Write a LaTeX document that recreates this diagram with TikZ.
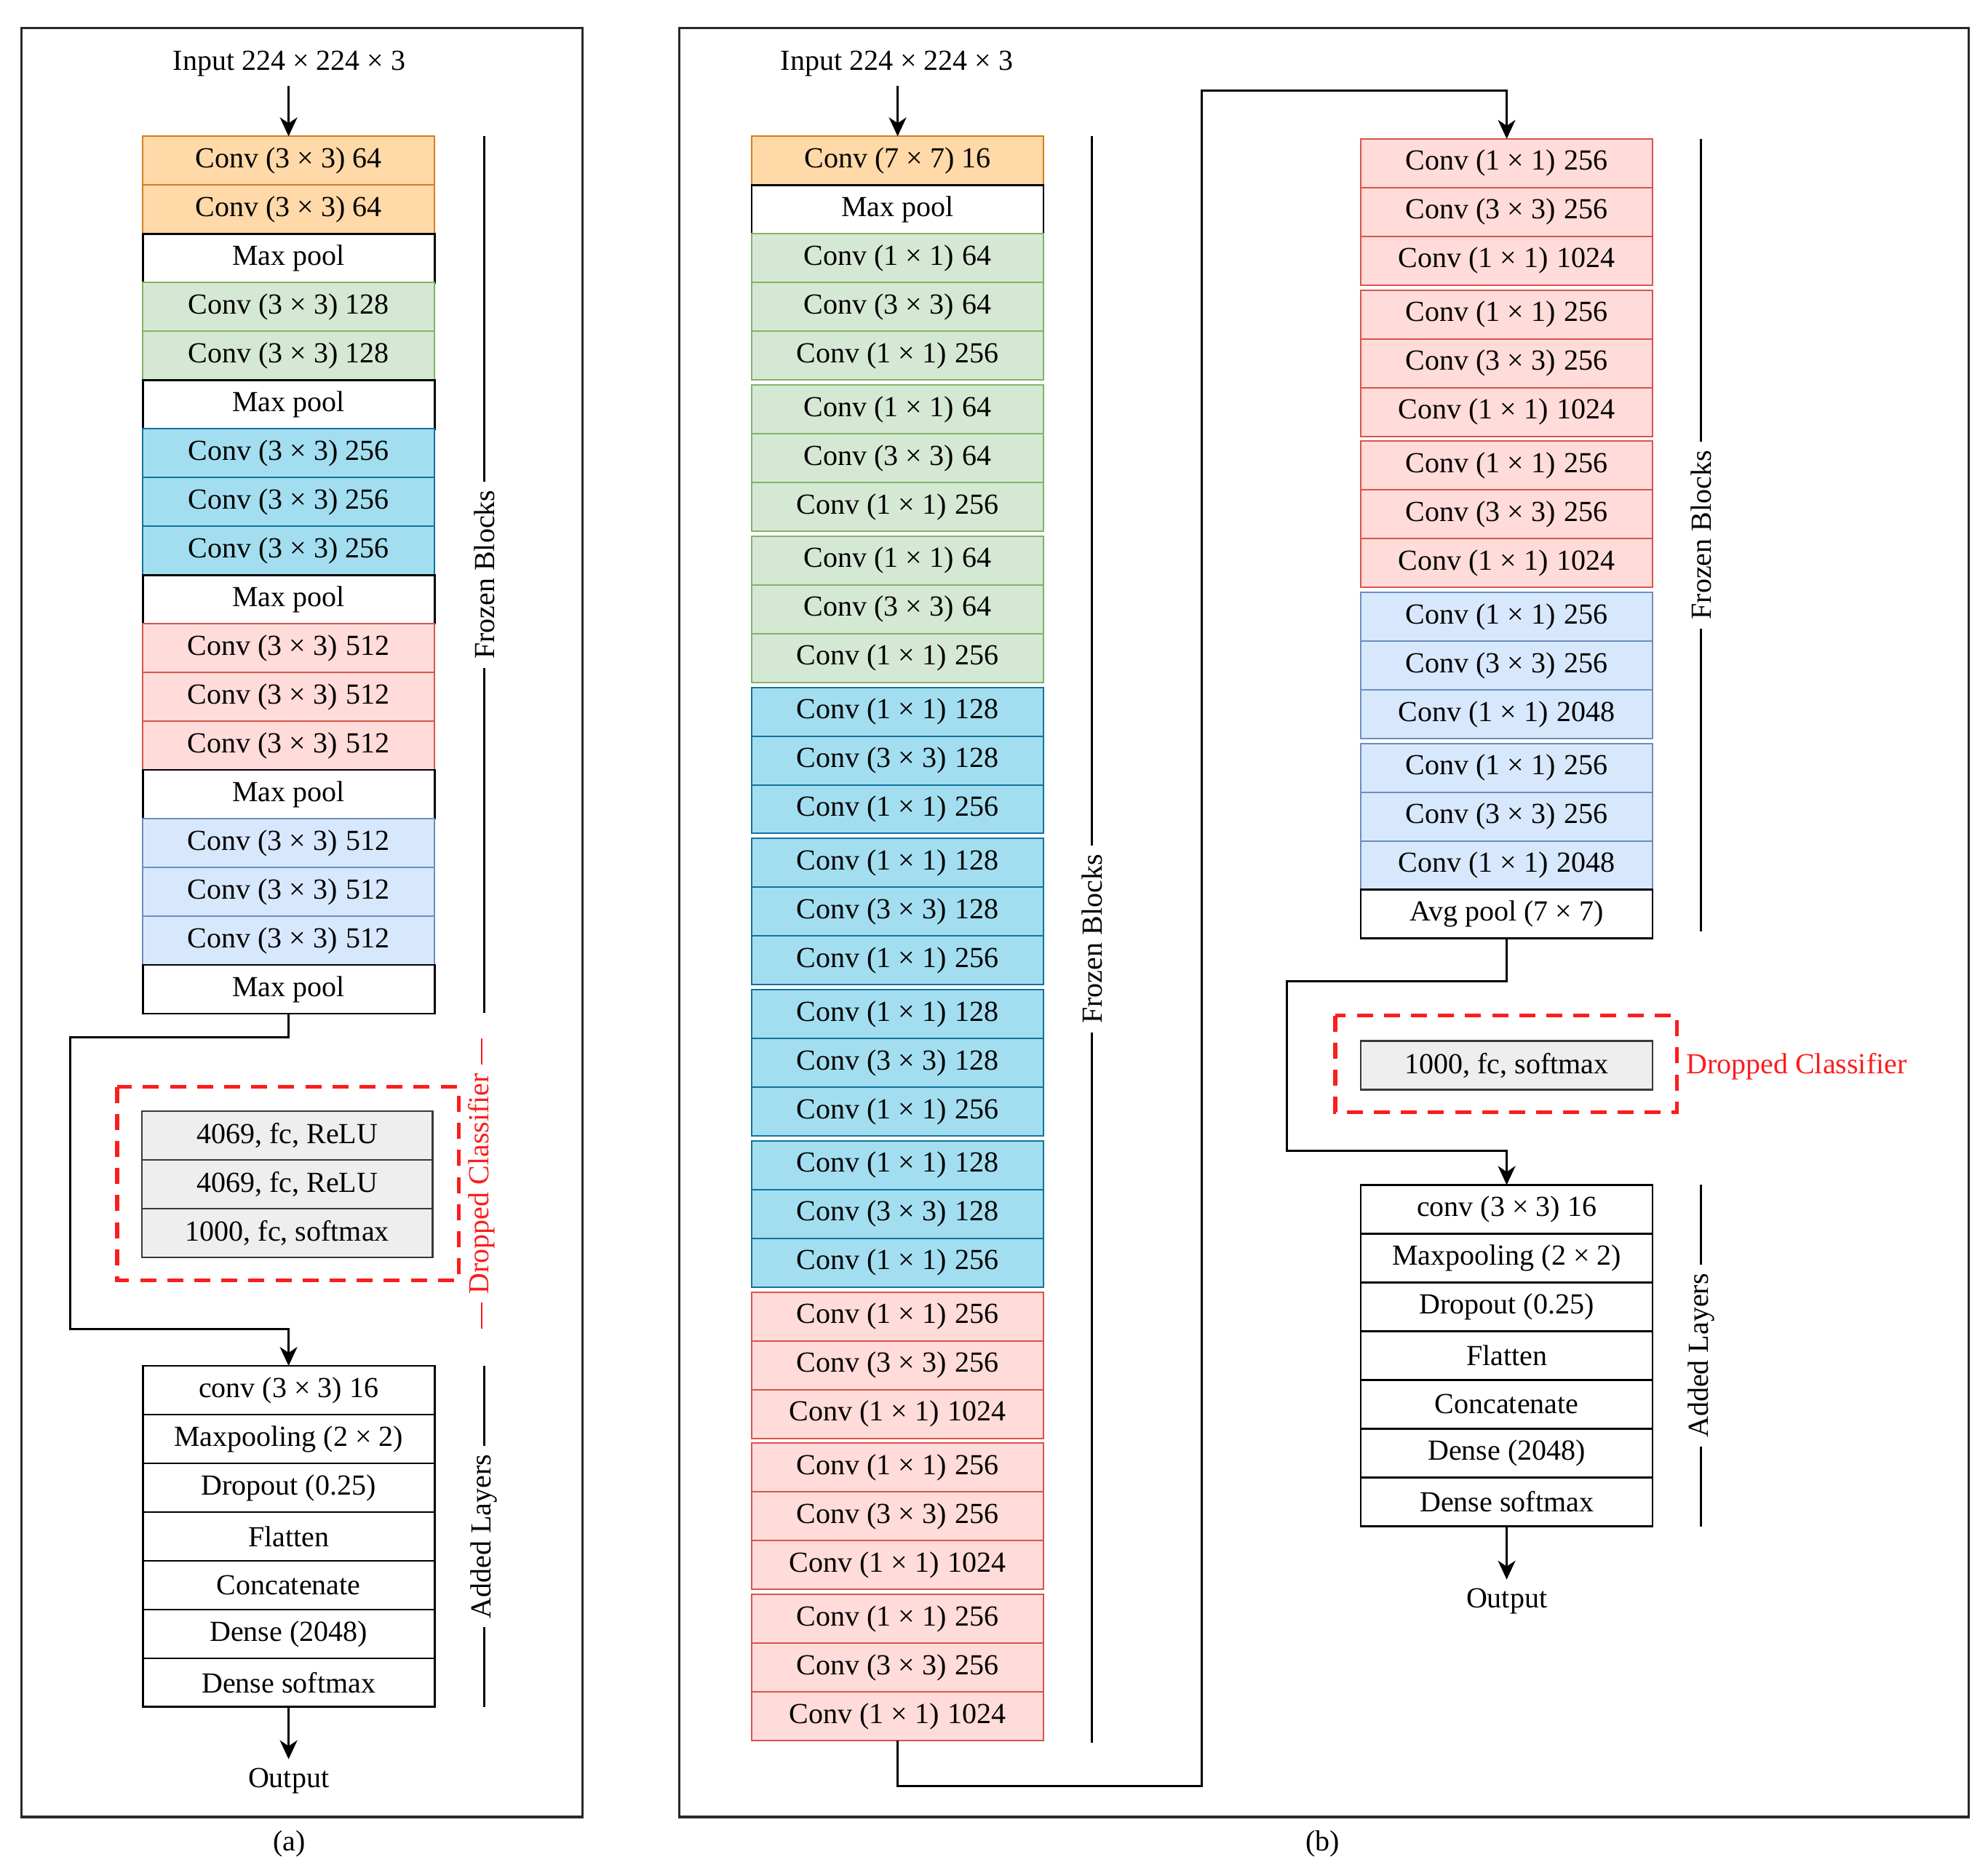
\documentclass[tikz,border=0pt]{standalone}
\usepackage{fontspec}
\setmainfont{Liberation Serif}
\usetikzlibrary{arrows.meta,calc}
\definecolor{orfill}{RGB}{255,217,168}
\definecolor{ordraw}{RGB}{214,125,30}
\definecolor{grfill}{RGB}{213,232,212}
\definecolor{grdraw}{RGB}{130,179,102}
\definecolor{cyfill}{RGB}{162,222,240}
\definecolor{cydraw}{RGB}{16,115,158}
\definecolor{rdfill}{RGB}{255,219,217}
\definecolor{rddraw}{RGB}{215,85,75}
\definecolor{lbfill}{RGB}{216,232,252}
\definecolor{lbdraw}{RGB}{108,142,191}
\definecolor{gyfill}{RGB}{238,238,238}
\definecolor{gydraw}{RGB}{54,57,61}
\definecolor{dropred}{RGB}{250,30,30}
\definecolor{framegray}{RGB}{40,40,40}
\newcommand{\twosp}{\hspace{0.3em}}
\begin{document}
\begin{tikzpicture}[x=0.43775pt,y=-0.43775pt,
  font=\fontsize{10}{12}\selectfont,
  layer/.style={rectangle, minimum width=100.25pt, minimum height=16.74pt, inner sep=0pt, outer sep=0pt, anchor=north, line width=0.5pt},
  orbox/.style={layer, fill=orfill, draw=ordraw},
  grbox/.style={layer, fill=grfill, draw=grdraw},
  cybox/.style={layer, fill=cyfill, draw=cydraw},
  rdbox/.style={layer, fill=rdfill, draw=rddraw},
  lbbox/.style={layer, fill=lbfill, draw=lbdraw},
  whbox/.style={layer, fill=white, draw=black, line width=0.7pt},
  gybox/.style={layer, fill=gyfill, draw=gydraw, line width=0.6pt, minimum width=99.8pt},
  txt/.style={inner sep=3pt},
  arr/.style={-{Stealth[length=6.5pt,width=6pt,inset=2pt]}, line width=0.75pt, draw=black},
  conn/.style={line width=0.75pt, draw=black},
  frame/.style={line width=0.8pt, draw=framegray},
  sideline/.style={line width=0.6pt, draw=black},
  sidelabel/.style={fill=white, rotate=90, inner xsep=3pt, inner ysep=0pt},
  dropbox/.style={draw=dropred, line width=1.3pt, dash pattern=on 5.5pt off 3.8pt}
]
\useasboundingbox (0,0) rectangle (1560.25,1463.2);

% ---------- frames ----------
\draw[frame] (17,22) rectangle (457,1426);
\draw[frame] (533,22) rectangle (1545,1426);

% ================= Panel (a) =================
\foreach \t/\s [count=\i] in {
 {Conv (3 × 3) 64}/orbox, {Conv (3 × 3) 64}/orbox, {Max pool}/whbox,
 {Conv (3 × 3) 128}/grbox, {Conv (3 × 3) 128}/grbox, {Max pool}/whbox,
 {Conv (3 × 3) 256}/cybox, {Conv (3 × 3) 256}/cybox, {Conv (3 × 3) 256}/cybox, {Max pool}/whbox,
 {Conv (3 × 3)\twosp 512}/rdbox, {Conv (3 × 3)\twosp 512}/rdbox, {Conv (3 × 3)\twosp 512}/rdbox, {Max pool}/whbox,
 {Conv (3 × 3)\twosp 512}/lbbox, {Conv (3 × 3)\twosp 512}/lbbox, {Conv (3 × 3)\twosp 512}/lbbox, {Max pool}/whbox}
 \node[\s] (fA\i) at (226.5,{107+(\i-1)*38.25}) {\t};

\node[txt] (inA) at (227,50) {Input 224 × 224 × 3};
\draw[arr] (fA1.north |- inA.south) -- (fA1.north);

% dropped classifier (a)
\draw[dropbox] (92,853) rectangle (360,1005);
\foreach \t [count=\i] in {{4069, fc, ReLU},{4069, fc, ReLU},{1000, fc, softmax}}
 \node[gybox] (dcA\i) at (225.5,{872+(\i-1)*38.3}) {\t};

% added layers (a)
\foreach \t [count=\i] in {{conv (3 × 3) 16},{Maxpooling (2 × 2)},{Dropout (0.25)},Flatten,Concatenate,{Dense (2048)},{Dense softmax}}
 \node[whbox] (adA\i) at (226.5,{1072+(\i-1)*38.25}) {\t};

\coordinate (ca1) at (55,814);
\coordinate (ca2) at (55,1043);
\draw[arr] (fA18.south) -- (fA18.south |- ca1) -- (ca1) -- (ca2) -- (ca2 -| adA1.north) -- (adA1.north);

\node[txt] (outA) at (226.5,1398) {Output};
\draw[arr] (adA7.south) -- (outA.north);

% side labels (a)
\coordinate (sa1) at (380,107); \coordinate (sa2) at (380,795);
\draw[sideline] (sa1) -- (sa2);
\node[sidelabel] (fzA) at (380,451) {Frozen Blocks};
\coordinate (sa3) at (378,815); \coordinate (sa4) at (378,1043);
\draw[sideline, draw=dropred] (sa3) -- (sa4);
\node[sidelabel, text=dropred] (drA) at (378,929) {Dropped Classifier};
\coordinate (sa5) at (380,1072); \coordinate (sa6) at (380,1340);
\draw[sideline] (sa5) -- (sa6);
\node[sidelabel] (alA) at (380,1206) {Added Layers};

\node[txt] (capA) at (227,1447) {(a)};

% ================= Panel (b) =================
\node[orbox] (bTop) at (704.5,107) {Conv (7 × 7) 16};
\node[whbox] (bPool) at (704.5,145.25) {Max pool};
\foreach \k/\sty/\na/\nc in {0/grbox/64/256, 1/grbox/64/256, 2/grbox/64/256,
  3/cybox/128/256, 4/cybox/128/256, 5/cybox/128/256, 6/cybox/128/256,
  7/rdbox/256/1024, 8/rdbox/256/1024, 9/rdbox/256/1024}
{
 \node[\sty] (bL\k-a) at (704.5,{183.5+\k*118.65}) {Conv (1 × 1)\twosp\na};
 \node[\sty] (bL\k-b) at (704.5,{183.5+\k*118.65+38.25}) {Conv (3 × 3)\twosp\na};
 \node[\sty] (bL\k-c) at (704.5,{183.5+\k*118.65+76.5}) {Conv (1 × 1)\twosp\nc};
}
\node[txt] (inB) at (704,50) {Input 224 × 224 × 3};
\draw[arr] (bTop.north |- inB.south) -- (bTop.north);

\foreach \k/\sty/\nc in {0/rdbox/1024, 1/rdbox/1024, 2/rdbox/1024, 3/lbbox/2048, 4/lbbox/2048}
{
 \node[\sty] (bR\k-a) at (1182.5,{109+\k*118.65}) {Conv (1 × 1)\twosp 256};
 \node[\sty] (bR\k-b) at (1182.5,{109+\k*118.65+38.25}) {Conv (3 × 3)\twosp 256};
 \node[\sty] (bR\k-c) at (1182.5,{109+\k*118.65+76.5}) {Conv (1 × 1)\twosp\nc};
}
\node[whbox] (avgB) at (1182.5,698.35) {Avg pool (7 × 7)};

\coordinate (cb1) at (943,1402);
\coordinate (cb2) at (943,71);
\draw[arr] (bL9-c.south) -- (bL9-c.south |- cb1) -- (cb1) -- (cb2) -- (cb2 -| bR0-a.north) -- (bR0-a.north);

% dropped classifier (b)
\draw[dropbox] (1048,797) rectangle (1316,873);
\node[gybox, minimum width=100.25pt] (dcB) at (1182.5,817) {1000, fc, softmax};
\node[txt, text=dropred] (drB) at (1410,837) {Dropped Classifier};

% added layers (b)
\foreach \t [count=\i] in {{conv (3 × 3) 16},{Maxpooling (2 × 2)},{Dropout (0.25)},Flatten,Concatenate,{Dense (2048)},{Dense softmax}}
 \node[whbox] (adB\i) at (1182.5,{930+(\i-1)*38.25}) {\t};

\coordinate (cb3) at (1010,770);
\coordinate (cb4) at (1010,903);
\draw[arr] (avgB.south) -- (avgB.south |- cb3) -- (cb3) -- (cb4) -- (cb4 -| adB1.north) -- (adB1.north);

\node[txt] (outB) at (1182.5,1257) {Output};
\draw[arr] (adB7.south) -- (outB.north);

% side labels (b)
\coordinate (sb1) at (857,107); \coordinate (sb2) at (857,1368);
\draw[sideline] (sb1) -- (sb2);
\node[sidelabel] (fzB1) at (857,737) {Frozen Blocks};
\coordinate (sb3) at (1335,109); \coordinate (sb4) at (1335,731);
\draw[sideline] (sb3) -- (sb4);
\node[sidelabel] (fzB2) at (1335,420) {Frozen Blocks};
\coordinate (sb5) at (1335,930); \coordinate (sb6) at (1335,1198);
\draw[sideline] (sb5) -- (sb6);
\node[sidelabel] (alB) at (1335,1064) {Added Layers};

\node[txt] (capB) at (1038,1447) {(b)};
\end{tikzpicture}
\end{document}
